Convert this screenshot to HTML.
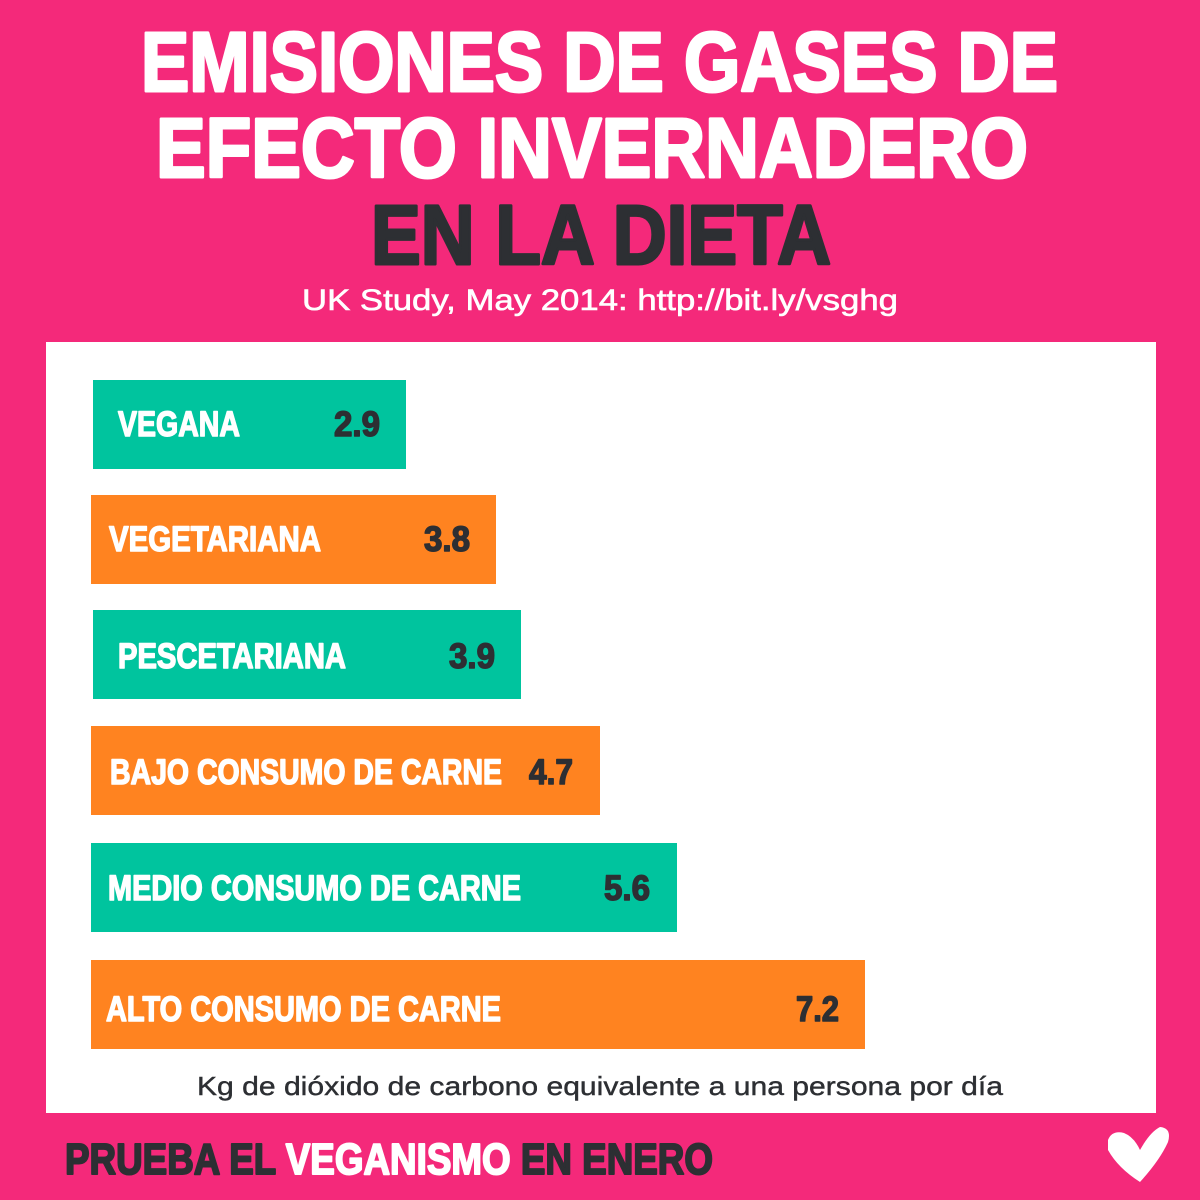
<!DOCTYPE html>
<html><head><meta charset="utf-8"><style>
html,body{margin:0;padding:0;background:#f4297a;}
svg{display:block}
</style></head><body>
<svg width="1200" height="1200" viewBox="0 0 1200 1200" xmlns="http://www.w3.org/2000/svg">
<rect width="1200" height="1200" fill="#f4297a"/>
<g font-family="Liberation Sans, sans-serif" font-weight="bold" stroke-width="3" stroke-linejoin="round">
<text x="141" y="91" font-size="84" fill="#fff" stroke="#fff" textLength="917" lengthAdjust="spacingAndGlyphs">EMISIONES DE GASES DE</text>
<text x="156" y="177" font-size="84" fill="#fff" stroke="#fff" textLength="872" lengthAdjust="spacingAndGlyphs">EFECTO INVERNADERO</text>
<text x="371" y="264" font-size="84" fill="#2d2f33" stroke="#2d2f33" textLength="460" lengthAdjust="spacingAndGlyphs">EN LA DIETA</text>
</g>
<text x="302" y="310" font-family="Liberation Sans, sans-serif" font-size="30" fill="#fff" stroke="#fff" stroke-width="0.6" textLength="596" lengthAdjust="spacingAndGlyphs">UK Study, May 2014: http://bit.ly/vsghg</text>
<rect x="46" y="342" width="1110" height="771" fill="#fff"/>
<g font-family="Liberation Sans, sans-serif" font-weight="bold" font-size="35" stroke-width="1.5" stroke-linejoin="round">
<rect x="93" y="380" width="313" height="89" fill="#00c49e"/>
<text x="118" y="436" fill="#fff" stroke="#fff" textLength="122" lengthAdjust="spacingAndGlyphs">VEGANA</text>
<text x="334" y="436" fill="#2d2f33" stroke="#2d2f33" textLength="46" lengthAdjust="spacingAndGlyphs">2.9</text>
<rect x="91" y="495" width="405" height="89" fill="#ff8320"/>
<text x="109" y="551" fill="#fff" stroke="#fff" textLength="212" lengthAdjust="spacingAndGlyphs">VEGETARIANA</text>
<text x="424" y="551" fill="#2d2f33" stroke="#2d2f33" textLength="46" lengthAdjust="spacingAndGlyphs">3.8</text>
<rect x="93" y="610" width="428" height="89" fill="#00c49e"/>
<text x="118" y="668" fill="#fff" stroke="#fff" textLength="228" lengthAdjust="spacingAndGlyphs">PESCETARIANA</text>
<text x="449" y="668" fill="#2d2f33" stroke="#2d2f33" textLength="46" lengthAdjust="spacingAndGlyphs">3.9</text>
<rect x="91" y="726" width="509" height="89" fill="#ff8320"/>
<text x="110" y="784" fill="#fff" stroke="#fff" textLength="392" lengthAdjust="spacingAndGlyphs">BAJO CONSUMO DE CARNE</text>
<text x="529" y="784" fill="#2d2f33" stroke="#2d2f33" textLength="44" lengthAdjust="spacingAndGlyphs">4.7</text>
<rect x="91" y="843" width="586" height="89" fill="#00c49e"/>
<text x="108" y="900" fill="#fff" stroke="#fff" textLength="413" lengthAdjust="spacingAndGlyphs">MEDIO CONSUMO DE CARNE</text>
<text x="604" y="900" fill="#2d2f33" stroke="#2d2f33" textLength="46" lengthAdjust="spacingAndGlyphs">5.6</text>
<rect x="91" y="960" width="774" height="89" fill="#ff8320"/>
<text x="106" y="1021" fill="#fff" stroke="#fff" textLength="395" lengthAdjust="spacingAndGlyphs">ALTO CONSUMO DE CARNE</text>
<text x="796" y="1021" fill="#2d2f33" stroke="#2d2f33" textLength="43" lengthAdjust="spacingAndGlyphs">7.2</text>
</g>
<text x="197" y="1095" font-family="Liberation Sans, sans-serif" font-size="26" fill="#2d2f33" stroke="#2d2f33" stroke-width="0.4" textLength="806" lengthAdjust="spacingAndGlyphs">Kg de dióxido de carbono equivalente a una persona por día</text>
<text x="65" y="1174" font-family="Liberation Sans, sans-serif" font-weight="bold" font-size="44" fill="#2d2f33" stroke="#2d2f33" stroke-width="2" stroke-linejoin="round" textLength="648" lengthAdjust="spacingAndGlyphs">PRUEBA EL <tspan fill="#fff" stroke="#fff">VEGANISMO</tspan> EN ENERO</text>
<path d="M1108 1140 Q1112 1130 1124 1133 Q1134 1137 1140 1150 Q1150 1132 1160 1127 Q1172 1128 1168 1142 Q1160 1160 1140 1182 Q1118 1168 1108 1150 Z" fill="#fff"/>
</svg>
</body></html>
